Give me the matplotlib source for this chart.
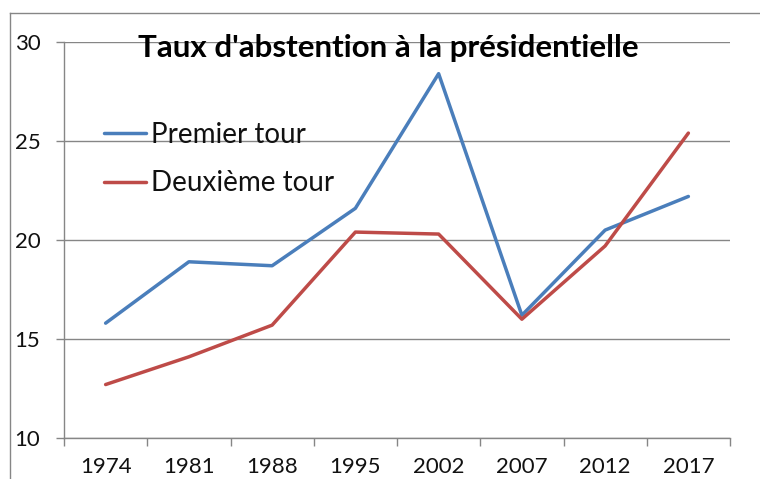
import numpy as np
import matplotlib
matplotlib.use("Agg")
import matplotlib.pyplot as plt
from matplotlib.lines import Line2D

# data
years = ["1974", "1981", "1988", "1995", "2002", "2007", "2012", "2017"]
premier_tour = [15.8, 18.9, 18.7, 21.6, 28.4, 16.2, 20.5, 22.2]
deuxieme_tour = [12.7, 14.1, 15.7, 20.4, 20.3, 16.0, 19.7, 25.4]

plt.rcParams['font.family'] = ['Lato', 'DejaVu Sans']

fig = plt.figure(figsize=(7.6, 4.79), dpi=100)
ax = fig.add_axes([64 / 760, 1 - 438 / 479, (730 - 64) / 760, (438 - 42) / 479])

x = np.arange(len(years))
ax.plot(x, premier_tour, color='#4a7ebb', lw=2.5, label='Premier tour', solid_capstyle='round')
ax.plot(x, deuxieme_tour, color='#be4b48', lw=2.5, label='Deuxième tour', solid_capstyle='round')

ax.set_xlim(-0.5, len(years) - 0.5)
ax.set_ylim(10, 30)
ax.set_yticks([10, 15, 20, 25, 30])
ax.set_xticks(x)
ax.set_xticklabels(years)
ax.set_xticks(np.arange(-0.5, len(years), 1), minor=True)

grey = '#868686'
ax.grid(axis='y', color=grey, lw=1)
ax.set_axisbelow(True)
for s in ['top', 'right']:
    ax.spines[s].set_visible(False)
for s in ['left', 'bottom']:
    ax.spines[s].set_color(grey)
    ax.spines[s].set_linewidth(1)

ax.tick_params(axis='x', which='major', length=0, pad=14, labelsize=16, labelcolor='#111111')
ax.tick_params(axis='x', which='minor', length=6, color=grey, width=1)
ax.tick_params(axis='y', length=6, color=grey, width=1, pad=11, labelsize=16, labelcolor='#111111')

fig.text(388 / 760, 1 - 34 / 479, "Taux d'abstention à la présidentielle",
         ha='center', va='top', fontsize=22.5, fontweight='bold', color='black')

ax.legend(loc='upper left', bbox_to_anchor=(104 / 760, 1 - 122 / 479),
          bbox_transform=fig.transFigure, frameon=False, fontsize=20,
          borderpad=0, borderaxespad=0,
          handlelength=1.5, handletextpad=0.18, labelspacing=0.8, labelcolor='#111111')

# outer chart border
fig.add_artist(Line2D([10 / 760, 10 / 760], [0, 1 - 13 / 479], color=grey, lw=1))
fig.add_artist(Line2D([10 / 760, 1], [1 - 13 / 479, 1 - 13 / 479], color=grey, lw=1))

fig.savefig('out.png', dpi=100)
